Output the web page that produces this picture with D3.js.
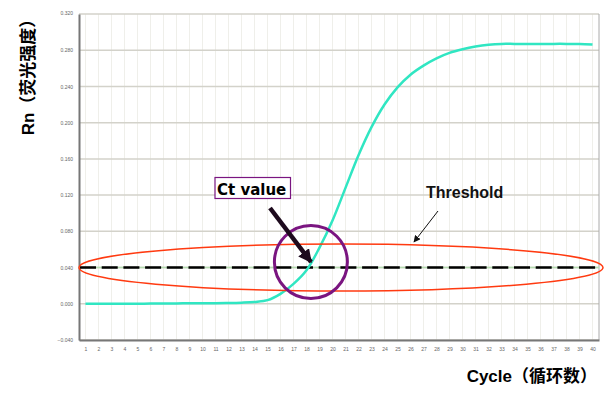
<!DOCTYPE html>
<html>
<head>
<meta charset="utf-8">
<script src="https://cdn.jsdelivr.net/npm/d3@7"></script>
<style>
body { margin: 0; background: #fff; }
svg { display: block; }
</style>
</head>
<body>
<script>
// amplification curve
var cycles = d3.range(1, 41)
var rn = [0.000, 0.000, 0.000, 0.000, 0.000, 0.0003, 0.0003, 0.0004, 0.0005, 0.0005,
	0.0006, 0.0008, 0.0012, 0.002, 0.004, 0.011, 0.022, 0.037, 0.062, 0.092,
	0.128, 0.164, 0.195, 0.220, 0.239, 0.253, 0.263, 0.271, 0.277, 0.281,
	0.284, 0.286, 0.287, 0.287, 0.287, 0.287, 0.287, 0.287, 0.2868, 0.2862]
var yTicks = [-0.040, 0.000, 0.040, 0.080, 0.120, 0.160, 0.200, 0.240, 0.280, 0.320]
var threshold = 0.040
var ctCycle = 18.3

var W = 613, H = 397
var svg = d3.select("body").append("svg").attr("width", W).attr("height", H)

var x = d3.scaleLinear().domain([0.5, 40.5]).range([79, 599])
var y = d3.scaleLinear().domain([-0.04, 0.32]).range([340, 14])

//GRID
svg.append("g").selectAll("line")
	.data(cycles)
	.enter().append("line")
	.attr("x1", function(d){ return x(d) }).attr("x2", function(d){ return x(d) })
	.attr("y1", y(0.32)).attr("y2", y(-0.04))
	.style("stroke", "#efefea").style("stroke-width", 1)

svg.append("g").selectAll("line")
	.data(yTicks)
	.enter().append("line")
	.attr("x1", x(0.5)).attr("x2", x(40.5))
	.attr("y1", function(d){ return y(d) }).attr("y2", function(d){ return y(d) })
	.style("stroke", "#d3d2ca").style("stroke-width", 1.5)

// frame
svg.append("line").attr("x1", x(40.5)).attr("x2", x(40.5)).attr("y1", y(0.32)).attr("y2", y(-0.04))
	.style("stroke", "#aaa").style("stroke-width", 1)

//AXES
var yAxis = svg.append("g").attr("transform", "translate(" + x(0.5) + ",0)")
	.call(d3.axisLeft(y).tickValues(yTicks).tickFormat(d3.format(".3f")).tickSize(0).tickPadding(6))
var xAxis = svg.append("g").attr("transform", "translate(0," + y(-0.04) + ")")
	.call(d3.axisBottom(x).tickValues(cycles).tickFormat(d3.format("d")).tickSize(0).tickPadding(7))

svg.selectAll(".domain").style("stroke", "#777").style("stroke-width", 2)
svg.selectAll(".tick text").style("font-family", "Arial, 'Liberation Sans', sans-serif")
	.style("font-size", "5px").style("fill", "#666")
// top label sits half under the frame in the original
yAxis.selectAll(".tick text").filter(function(d){ return d == 0.32 }).attr("dy", "0.1em")

//THRESHOLD
svg.append("line")
	.attr("x1", x(0.5)).attr("x2", x(40.5))
	.attr("y1", y(threshold)).attr("y2", y(threshold))
	.style("stroke", "#b5dbb0").style("stroke-width", 1.5)

svg.append("line")
	.attr("x1", x(0.5) + 1).attr("x2", x(40.5))
	.attr("y1", y(threshold)).attr("y2", y(threshold))
	.style("stroke", "#000").style("stroke-width", 2.5)
	.style("stroke-dasharray", "16,5.7")

//CURVE
var line = d3.line()
	.x(function(d, i){ return x(cycles[i]) })
	.y(function(d){ return y(d) })
	.curve(d3.curveCatmullRom)

svg.append("path").datum(rn)
	.attr("d", line)
	.style("fill", "none")
	.style("stroke", "#30e6c2").style("stroke-width", 2.5)

//ANNOTATIONS
var defs = svg.append("defs")
defs.append("marker").attr("id", "headBig")
	.attr("viewBox", "0 0 10 10").attr("refX", 9).attr("refY", 5)
	.attr("markerWidth", 3).attr("markerHeight", 3).attr("orient", "auto")
	.append("path").attr("d", "M0,0L10,5L0,10z").style("fill", "#1d0a1d")
defs.append("marker").attr("id", "headSmall")
	.attr("viewBox", "0 0 10 10").attr("refX", 9).attr("refY", 5)
	.attr("markerWidth", 7).attr("markerHeight", 7).attr("orient", "auto")
	.append("path").attr("d", "M0,0L10,5L0,10z").style("fill", "#111")

var cx = (x(0.5) + x(40.5) + 4) / 2
svg.append("ellipse")
	.attr("cx", cx).attr("cy", y(threshold))
	.attr("rx", cx - x(0.5)).attr("ry", 23.5)
	.style("fill", "none").style("stroke", "#ff3a10").style("stroke-width", 1.5)

svg.append("circle")
	.attr("cx", x(ctCycle) + 0.5).attr("cy", y(threshold) - 5.5).attr("r", 36.5)
	.style("fill", "none").style("stroke", "#7a1580").style("stroke-width", 3)

svg.append("line")
	.attr("x1", 270).attr("y1", 208).attr("x2", 311).attr("y2", 262)
	.style("stroke", "#1d0a1d").style("stroke-width", 4.5)
	.attr("marker-end", "url(#headBig)")

svg.append("rect")
	.attr("x", 215).attr("y", 177.5).attr("width", 75.5).attr("height", 21)
	.style("fill", "#fff").style("stroke", "#7a1580").style("stroke-width", 1.2)
svg.append("text")
	.attr("x", 217).attr("y", 194.5)
	.style("font-family", "'DejaVu Sans', sans-serif").style("font-size", "15px")
	.style("font-weight", "bold").style("fill", "#000")
	.text("Ct value")

svg.append("text")
	.attr("x", 426).attr("y", 197.5)
	.style("font-family", "Arial, 'Liberation Sans', sans-serif").style("font-size", "16px")
	.style("font-weight", "bold").style("fill", "#111")
	.text("Threshold")
svg.append("line")
	.attr("x1", 438).attr("y1", 211).attr("x2", 414).attr("y2", 242)
	.style("stroke", "#111").style("stroke-width", 1)
	.attr("marker-end", "url(#headSmall)")

//AXIS TITLES
var titleFont = "Arial, 'Liberation Sans', 'Noto Sans CJK SC', sans-serif"
svg.append("text")
	.attr("transform", "translate(34,73) rotate(-90)")
	.style("text-anchor", "middle")
	.style("font-family", titleFont).style("font-size", "17px").style("font-weight", "bold")
	.text("Rn（荧光强度）")
svg.append("text")
	.attr("x", 597).attr("y", 382)
	.style("text-anchor", "end")
	.style("font-family", titleFont).style("font-size", "17px").style("font-weight", "bold")
	.text("Cycle（循环数）")
</script>
</body>
</html>
